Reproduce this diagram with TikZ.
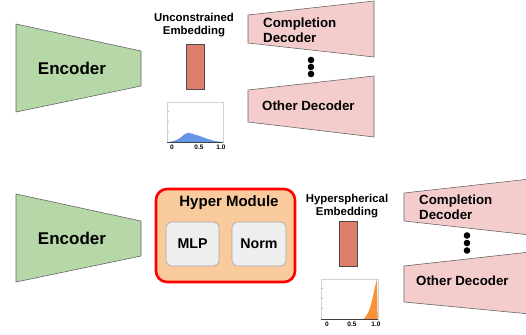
\documentclass[tikz,border=0pt]{standalone}
\usepackage{fontspec}
\setmainfont{Liberation Sans}
\definecolor{encgreen}{HTML}{B6D7A8}
\definecolor{decpink}{HTML}{F4CCCC}
\definecolor{barred}{HTML}{DD7E6B}
\definecolor{hyperfill}{HTML}{F9CB9C}
\definecolor{boxgray}{HTML}{EEEEEE}
\definecolor{histblue}{HTML}{6495E6}
\definecolor{historange}{HTML}{F7923A}
\definecolor{edgegray}{HTML}{666666}
\begin{document}
\begin{tikzpicture}[x=1pt,y=-1pt,
  enc/.style={fill=encgreen,draw=edgegray,line width=0.6pt},
  dec/.style={fill=decpink,draw=edgegray,line width=0.6pt},
  bar/.style={fill=barred,draw=black!70,line width=0.6pt},
  txt/.style={inner sep=0pt,font=\bfseries},
  bigtxt/.style={txt,font=\fontsize{17}{20}\selectfont\bfseries},
  dectxt/.style={txt,anchor=west,align=left,font=\fontsize{13.3}{14.5}\selectfont\bfseries},
  embtxt/.style={txt,align=center,font=\fontsize{11.4}{13}\selectfont\bfseries},
  subbox/.style={fill=boxgray,draw=gray!70,line width=0.6pt,rounded corners=6pt},
  subtxt/.style={txt,font=\fontsize{14.2}{16}\selectfont\bfseries},
  ticktxt/.style={txt,font=\fontsize{6.5}{7}\selectfont\bfseries},
  frame/.style={draw=gray!35,line width=0.5pt},
  dot/.style={fill=black}]
\clip (0,0) rectangle (526,334);

% ---------- upper row: plain encoder / decoders ----------
\draw[enc] (16,24) -- (141,51) -- (141,86) -- (16,112) -- cycle;
\node[bigtxt] (encA) at (72,68.5) {Encoder};

\node[embtxt] (embA) at (194,25) {Unconstrained\\Embedding};
\draw[bar] (186,44) rectangle (204,89);

% histogram of the unconstrained embedding
\draw[frame] (167,102) rectangle (223,142);
\foreach \t in {111,121,131} \draw[gray!50,line width=0.4pt] (167,\t) -- (169,\t);
\fill[histblue] plot[smooth] coordinates {(168,142) (174,141) (180,138) (185,134) (188,132.8) (193,134) (199,135.8) (205,138) (212,140.3) (218,141.5) (223,142)} -- cycle;
\draw[black!75,line width=0.5pt] (167,142) -- (223,142);
\node[ticktxt] (tA0) at (172,147) {0};
\node[ticktxt] (tA5) at (199,147) {0.5};
\node[ticktxt] (tA1) at (221,147) {1.0};

\draw[dec] (248,15) -- (374,1) -- (374,57) -- (248,43) -- cycle;
\node[dectxt] (compA) at (263,30) {Completion\\Decoder};
\fill[dot] (311,60) circle (3.3pt);
\fill[dot] (311,67) circle (3.3pt);
\fill[dot] (311,74) circle (3.3pt);
\draw[dec] (248,90) -- (374,76) -- (374,137) -- (248,122) -- cycle;
\node[dectxt] (otherA) at (262,106) {Other Decoder};

% ---------- lower row: encoder with hyper module ----------
\draw[enc] (16,194) -- (141,221) -- (141,256) -- (16,282) -- cycle;
\node[bigtxt] (encB) at (72,238.5) {Encoder};

\draw[fill=hyperfill,draw=red,line width=2.6pt,rounded corners=11pt] (156,189) rectangle (295,282);
\node[txt,font=\fontsize{15}{17}\selectfont\bfseries] (hyper) at (229,202.5) {Hyper Module};
\draw[subbox] (166,222) rectangle (219,266);
\node[subtxt] (mlp) at (192.5,244) {MLP};
\draw[subbox] (232,222) rectangle (286,266);
\node[subtxt] (norm) at (259,244) {Norm};

\node[embtxt] (embB) at (347,206) {Hyperspherical\\Embedding};
\draw[bar] (339,221) rectangle (357,266);

% histogram of the hyperspherical embedding
\draw[frame] (321,279) rectangle (378,319);
\foreach \t in {288,298,308} \draw[gray!50,line width=0.4pt] (321,\t) -- (323,\t);
\fill[historange] (363,319) .. controls (368,316) and (371,306) .. (373,296) .. controls (375,287) and (376,282) .. (377,279) -- (377.6,319) -- cycle;
\draw[black!75,line width=0.5pt] (321,319) -- (378,319);
\node[ticktxt] (tB0) at (327,324.5) {0};
\node[ticktxt] (tB5) at (352,324.5) {0.5};
\node[ticktxt] (tB1) at (376,324.5) {1.0};

\draw[dec] (404,193) -- (530,179) -- (530,235) -- (404,221) -- cycle;
\node[dectxt] (compB) at (419,207) {Completion\\Decoder};
\fill[dot] (467,235.5) circle (3.3pt);
\fill[dot] (467,243) circle (3.3pt);
\fill[dot] (467,250.5) circle (3.3pt);
\draw[dec] (404,266) -- (530,252) -- (530,314) -- (404,302) -- cycle;
\node[dectxt] (otherB) at (416,281) {Other Decoder};
\end{tikzpicture}
\end{document}
